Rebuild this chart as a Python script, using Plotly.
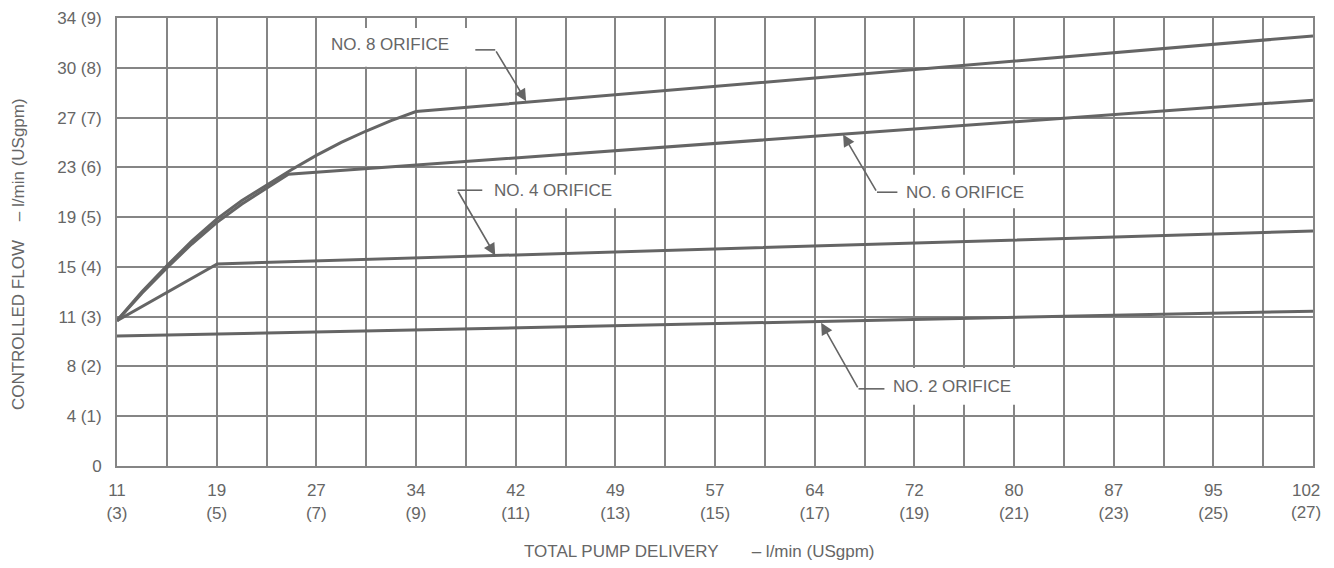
import plotly.graph_objects as go

# ---- axis ticks (x in USgpm, labelled l/min + (USgpm)) ----
x_gpm_ticks = [3, 5, 7, 9, 11, 13, 15, 17, 19, 21, 23, 25, 27]
x_lpm_labels = ["11", "19", "27", "34", "42", "49", "57", "64", "72", "80", "87", "95", "102"]
y_gpm_ticks = [0, 1, 2, 3, 4, 5, 6, 7, 8, 9]
y_lpm_labels = ["0", "4", "8", "11", "15", "19", "23", "27", "30", "34"]

# ---- series (USgpm) ----
no8_x = [3, 3.5, 4, 4.5, 5, 5.5, 6, 6.5, 7, 7.5, 8, 8.5, 9, 27]
no8_y = [2.92, 3.50, 4.02, 4.52, 4.96, 5.33, 5.64, 5.95, 6.24, 6.50, 6.73, 6.94, 7.12, 8.64]
no6_x = [3, 3.5, 4, 4.5, 5, 5.5, 6, 6.44, 27]
no6_y = [2.92, 3.47, 3.98, 4.46, 4.89, 5.26, 5.58, 5.86, 7.35]
no4_x = [3, 5.01, 27]
no4_y = [2.92, 4.06, 4.72]
no2_x = [3, 27]
no2_y = [2.61, 3.11]

# ---- callouts: label, text pos, box, leader (horizontal + diagonal to tip) ----
labels = ["NO. 8 ORIFICE", "NO. 6 ORIFICE", "NO. 4 ORIFICE", "NO. 2 ORIFICE"]
text_x = [8.47, 20.02, 11.75, 19.76]
text_y = [8.46, 5.50, 5.54, 1.59]
box_x0 = [7.17, 18.72, 10.43, 18.52]
box_x1 = [10.08, 21.33, 13.20, 21.33]
box_y0 = [8.02, 5.18, 5.18, 1.23]
box_y1 = [8.80, 5.85, 5.85, 1.97]
hline_x0 = [10.19, 18.25, 9.83, 17.88]
hline_x1 = [10.59, 18.66, 10.33, 18.40]
tail_x = [10.59, 18.25, 9.83, 17.88]
tail_y = [8.36, 5.50, 5.54, 1.55]
tip_x = [11.21, 17.57, 10.59, 17.13]
tip_y = [7.33, 6.66, 4.23, 2.88]

FONT = "Liberation Sans, Arial, sans-serif"
TXT = "#666666"
GRID = "#858585"
LINE = "#656565"

fig = go.Figure()
for xs, ys in [(no2_x, no2_y), (no4_x, no4_y), (no6_x, no6_y), (no8_x, no8_y)]:
    fig.add_trace(go.Scatter(x=xs, y=ys, mode="lines",
                             line=dict(color=LINE, width=3), showlegend=False,
                             hoverinfo="skip"))

shapes = []
for i in range(len(labels)):
    shapes.append(dict(type="rect", xref="x", yref="y", x0=box_x0[i], x1=box_x1[i],
                       y0=box_y0[i], y1=box_y1[i], fillcolor="white",
                       line=dict(width=0), layer="above"))
for i in range(len(labels)):
    shapes.append(dict(type="line", xref="x", yref="y", x0=hline_x0[i], x1=hline_x1[i],
                       y0=tail_y[i], y1=tail_y[i], line=dict(color=LINE, width=1.6),
                       layer="above"))

annotations = []
for i in range(len(labels)):
    annotations.append(dict(x=text_x[i], y=text_y[i], xref="x", yref="y", text=labels[i],
                            showarrow=False, font=dict(family=FONT, size=17, color=TXT)))
    annotations.append(dict(x=tip_x[i], y=tip_y[i], xref="x", yref="y",
                            ax=tail_x[i], ay=tail_y[i], axref="x", ayref="y", text="",
                            showarrow=True, arrowhead=2, arrowsize=1.5, arrowwidth=1.6,
                            arrowcolor=LINE, standoff=0, startstandoff=0))

annotations.append(dict(x=0.487, y=-0.190, xref="paper", yref="paper",
                        text="TOTAL PUMP DELIVERY" + "\u00a0" * 7 + "– l/min (USgpm)",
                        showarrow=False, xanchor="center", yanchor="middle",
                        font=dict(family=FONT, size=17, color=TXT)))
annotations.append(dict(x=-0.0828, y=0.473, xref="paper", yref="paper",
                        text="CONTROLLED FLOW" + "\u00a0" * 4 + "– l/min (USgpm)",
                        textangle=-90, showarrow=False, xanchor="center", yanchor="middle",
                        font=dict(family=FONT, size=17, color=TXT)))

x_ticktext = [f"{a}<br>({b})" for a, b in zip(x_lpm_labels, x_gpm_ticks)]
# last label sits at the right edge; draw it as a text nudged left so it stays on the page
x_ticktext[-1] = ""
annotations.append(dict(x=x_gpm_ticks[-1], y=0, xref="x", yref="y",
                        text=f"{x_lpm_labels[-1]}<br>({x_gpm_ticks[-1]})",
                        showarrow=False, xanchor="center", yanchor="top",
                        xshift=-7, yshift=-13, font=dict(family=FONT, size=17, color=TXT)))

# page body has an 8px default margin, so the figure is sized to fit inside it
fig.update_layout(
    width=1318, height=552,
    margin=dict(l=109, r=13, t=10, b=94),
    paper_bgcolor="white", plot_bgcolor="white",
    shapes=shapes, annotations=annotations,
    xaxis=dict(range=[3, 27], tickmode="array", tickvals=x_gpm_ticks,
               ticktext=x_ticktext, automargin=False, ticklabeloverflow="allow",
               showgrid=True, gridcolor=GRID, gridwidth=2,
               minor=dict(tickmode="linear", tick0=3, dtick=1, showgrid=True,
                          gridcolor=GRID, gridwidth=2),
               showline=True, linecolor=GRID, linewidth=2, mirror=True,
               zeroline=False, ticks="", ticklabelstandoff=8,
               tickfont=dict(family=FONT, size=17, color=TXT)),
    yaxis=dict(range=[0, 9], tickmode="array", tickvals=y_gpm_ticks,
               ticktext=[f"{a} ({b})" if b > 0 else a for a, b in zip(y_lpm_labels, y_gpm_ticks)],
               automargin=False, ticklabeloverflow="allow",
               showgrid=True, gridcolor=GRID, gridwidth=2,
               showline=True, linecolor=GRID, linewidth=2, mirror=True,
               zeroline=False, ticks="", ticklabelstandoff=10,
               tickfont=dict(family=FONT, size=17, color=TXT)),
)

fig.write_html("out.html")
